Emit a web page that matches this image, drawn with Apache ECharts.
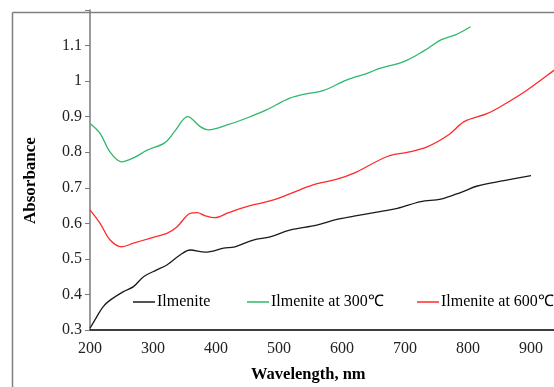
<!DOCTYPE html>
<html><head><meta charset="utf-8">
<script src="https://cdn.jsdelivr.net/npm/echarts@6/dist/echarts.min.js"></script>
<style>html,body{margin:0;padding:0;background:#fff;overflow:hidden}#c{width:554px;height:387px}</style>
</head><body><div id="c"></div>
<script>
const seriesNames = ['Ilmenite', 'Ilmenite at 300\u2103', 'Ilmenite at 600\u2103'];
const xTicks = [200, 300, 400, 500, 600, 700, 800, 900, 1000];
const yTicks = [0.3, 0.4, 0.5, 0.6, 0.7, 0.8, 0.9, 1, 1.1, 1.2];
const ilmenite = [[200,0.305],[210,0.335],[221,0.366],[232,0.384],[253,0.408],[269,0.422],[285,0.45],[306,0.469],[322,0.483],[343,0.511],[359,0.525],[383,0.519],[412,0.53],[430,0.534],[459,0.553],[486,0.562],[517,0.581],[560,0.595],[592,0.611],[619,0.62],[660,0.633],[688,0.642],[725,0.661],[757,0.668],[790,0.688],[815,0.705],[857,0.72],[900,0.734]];
const ilm300 = [[200,0.881],[216,0.853],[232,0.80],[250,0.773],[270,0.785],[290,0.805],[319,0.827],[335,0.86],[355,0.9],[375,0.872],[388,0.863],[420,0.878],[450,0.897],[480,0.919],[517,0.952],[545,0.965],[570,0.973],[607,1.003],[640,1.022],[660,1.036],[698,1.055],[730,1.085],[757,1.116],[780,1.13],[804,1.153]];
const ilm600 = [[200,0.638],[216,0.60],[232,0.553],[250,0.534],[269,0.544],[295,0.558],[322,0.572],[338,0.59],[359,0.628],[370,0.63],[382,0.622],[398,0.616],[420,0.63],[449,0.647],[490,0.665],[520,0.685],[554,0.708],[592,0.724],[619,0.741],[672,0.788],[705,0.8],[736,0.816],[770,0.85],[794,0.886],[831,0.909],[860,0.937],[894,0.975],[937,1.031],[970,1.075]];
const chart = echarts.init(document.getElementById('c'));
const font = '"Liberation Serif", "Times New Roman", serif';
const legendBase = {
  top: 294, padding: 0, icon: 'rect', itemWidth: 22, itemHeight: 1.5,
  textStyle: {fontFamily: font, fontSize: 16, color: '#000', padding: [0,0,0,-3]}
};
chart.setOption({
  animation: false,
  backgroundColor: '#fff',
  textStyle: {fontFamily: font},
  grid: {left: 90, top: 10, width: 504, height: 320, containLabel: false, outerBoundsMode: 'none'},
  graphic: [
    {type: 'line', shape: {x1: 12.5, y1: 12.5, x2: 600, y2: 12.5}, style: {stroke: '#808080', lineWidth: 1.5}, silent: true, z: 0},
    {type: 'line', shape: {x1: 12.5, y1: 12.5, x2: 12.5, y2: 420}, style: {stroke: '#808080', lineWidth: 1.5}, silent: true, z: 0},
    {type: 'text', x: 22, y: 224, rotation: Math.PI / 2, style: {text: 'Absorbance', font: 'bold 17px ' + font, fill: '#000'}},
    {type: 'text', x: 251, y: 366, style: {text: 'Wavelength, nm', font: 'bold 16.5px ' + font, fill: '#000'}}
  ],
  legend: [
    Object.assign({left: 133, data: [seriesNames[0]]}, legendBase),
    Object.assign({left: 247, data: [seriesNames[1]]}, legendBase),
    Object.assign({left: 417, data: [seriesNames[2]]}, legendBase)
  ],
  xAxis: {
    type: 'value', min: 200, max: 1000, interval: 100,
    axisLine: {lineStyle: {color: '#000', width: 1.5}},
    axisTick: {show: false}, splitLine: {show: false},
    axisLabel: {fontFamily: font, fontSize: 16, color: '#222', margin: 11,
      formatter: v => (v >= 1000 ? '' : String(v))}
  },
  yAxis: {
    type: 'value', min: 0.3, max: 1.2, interval: 0.1,
    axisLine: {show: true, lineStyle: {color: '#7a7a7a', width: 1.5}},
    axisTick: {show: true, length: 5, lineStyle: {color: '#7a7a7a'}},
    splitLine: {show: false},
    axisLabel: {fontFamily: font, fontSize: 16, color: '#222', margin: 8,
      formatter: v => { const r = Math.round(v*10)/10; return r >= 1.15 ? '' : String(r); }}
  },
  series: [
    {name: seriesNames[0], type: 'line', data: ilmenite, smooth: 0.35, symbol: 'none', lineStyle: {color: '#1a1a1a', width: 1.3}, itemStyle: {color: '#1a1a1a'}},
    {name: seriesNames[1], type: 'line', data: ilm300, smooth: 0.35, symbol: 'none', lineStyle: {color: '#2db86a', width: 1.3}, itemStyle: {color: '#2db86a'}},
    {name: seriesNames[2], type: 'line', data: ilm600, smooth: 0.35, symbol: 'none', lineStyle: {color: '#ff2a2a', width: 1.3}, itemStyle: {color: '#ff2a2a'}}
  ]
});
</script></body></html>
